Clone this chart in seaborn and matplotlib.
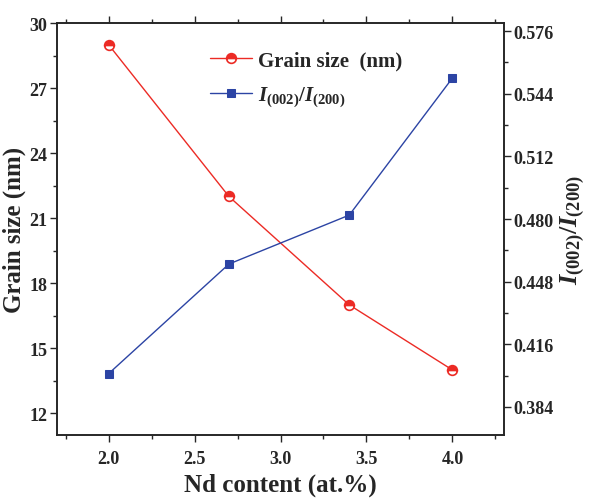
import seaborn as sns
import pandas as pd
import matplotlib.pyplot as plt
from matplotlib.ticker import MultipleLocator

# data
ndContent = [2.0, 2.7, 3.4, 4.0]
grainSize = [29.0, 22.0, 17.0, 14.0]
intensityRatio = [0.401, 0.457, 0.482, 0.552]

sns.set_style("ticks")
plt.rcParams['font.family'] = ['Liberation Serif', 'DejaVu Serif']
plt.rcParams['font.weight'] = 'bold'
plt.rcParams['mathtext.fontset'] = 'custom'
plt.rcParams['mathtext.rm'] = 'Liberation Serif:bold'
plt.rcParams['mathtext.it'] = 'Liberation Serif:italic:bold'
plt.rcParams['mathtext.bf'] = 'Liberation Serif:bold'

df = pd.DataFrame({'nd': ndContent, 'grain': grainSize, 'ratio': intensityRatio})

fig = plt.figure(figsize=(5.9, 5.02), dpi=100)
ax = fig.add_axes([57 / 590, 1 - 436 / 502, 447 / 590, 412 / 502])
ax2 = ax.twinx()

red = '#ec2b25'
blue = '#2c44a4'

sns.lineplot(data=df, x='nd', y='grain', ax=ax, color=red, marker='o',
             markersize=7, linewidth=1, markeredgecolor=red, label='Grain size  (nm)', legend=False)
sns.lineplot(data=df, x='nd', y='ratio', ax=ax2, color=blue, marker='s',
             markersize=6, linewidth=1, markeredgecolor=blue,
             label=r'$I_{(002)}/I_{(200)}$', legend=False)

# half filled circles
for ln in ax.lines:
    ln.set_fillstyle('top')
    ln.set_markerfacecoloralt('white')
    ln.set_markeredgewidth(1.2)

ax.set_xlim(1.7, 4.3)
ax.set_ylim(11, 30)
ax2.set_ylim(0.3697, 0.5801)

ax.xaxis.set_major_locator(MultipleLocator(0.5))
ax.xaxis.set_minor_locator(MultipleLocator(0.25))
ax.yaxis.set_major_locator(MultipleLocator(3))
ax.yaxis.set_minor_locator(MultipleLocator(1.5))
ax2.yaxis.set_minor_locator(MultipleLocator(0.016))
ax2.set_yticks([0.384, 0.416, 0.448, 0.480, 0.512, 0.544, 0.576])
ax2.set_yticklabels(['0.384', '0.416', '0.448', '0.480', '0.512', '0.544', '0.576'])

ax.tick_params(axis='both', which='major', length=5, width=1, labelsize=13, direction='out', pad=2)
ax.tick_params(axis='both', which='minor', length=3, width=1, direction='out')
ax.tick_params(axis='x', top=True, which='both', pad=6)
ax2.tick_params(axis='y', which='major', length=5, width=1, labelsize=13, direction='out', pad=2)
ax2.tick_params(axis='y', which='minor', length=3, width=1, direction='out')
for a in (ax, ax2):
    for s in a.spines.values():
        s.set_visible(True)
        s.set_linewidth(1.2)

ax.set_xlabel('Nd content (at.%)', fontsize=18, fontweight='bold', labelpad=4)
ax.set_ylabel('Grain size (nm)', fontsize=18, fontweight='bold', labelpad=2)
ax2.set_ylabel(r'$I_{(002)}/I_{(200)}$', fontsize=19, labelpad=3)

h1, l1 = ax.get_legend_handles_labels()
h2, l2 = ax2.get_legend_handles_labels()
ax.legend(h1 + h2, l1 + l2, loc='upper left', bbox_to_anchor=(0.30, 0.98),
          frameon=False, fontsize=15, handlelength=2.0, handletextpad=0.3,
          labelspacing=0.7)

fig.savefig('out.png', dpi=100)
